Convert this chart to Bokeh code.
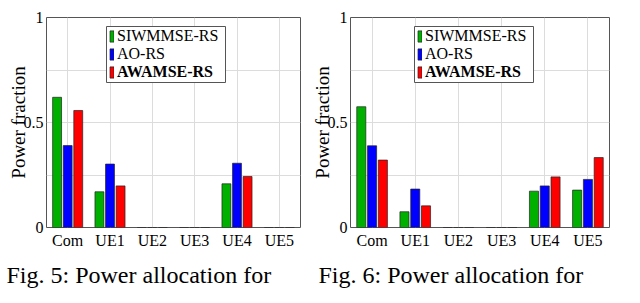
from bokeh.plotting import figure
from bokeh.models import (ColumnDataSource, FactorRange, Range1d, FixedTicker,
                          Legend, LegendItem, Title)
from bokeh.transform import dodge
from bokeh.layouts import row
from bokeh.embed import file_html
from bokeh.resources import INLINE

# ---------------- data ----------------
categories = ["Com", "UE1", "UE2", "UE3", "UE4", "UE5"]
series_names = ["SIWMMSE-RS", "AO-RS", "AWAMSE-RS"]

fig5_siwmmse = [0.62, 0.17, 0.0, 0.0, 0.208, 0.0]
fig5_ao = [0.39, 0.302, 0.0, 0.0, 0.306, 0.0]
fig5_awamse = [0.557, 0.198, 0.0, 0.0, 0.243, 0.0]

fig6_siwmmse = [0.575, 0.075, 0.0, 0.0, 0.173, 0.178]
fig6_ao = [0.389, 0.183, 0.0, 0.0, 0.198, 0.229]
fig6_awamse = [0.321, 0.103, 0.0, 0.0, 0.241, 0.333]

y_ticks = [0, 0.5, 1]
y_tick_labels = ["0", "0.5", "1"]
y_grid = [0.25, 0.5, 0.75]

captions = ["Fig. 5: Power allocation for", "Fig. 6: Power allocation for"]

# ---------------- style ----------------
FONT = "Liberation Serif"
COLORS = ["#00b000", "#0000ff", "#ff0000"]
EDGE = "#222222"
FRAME = "#555555"
GRID = "#dcdcdc"
FRAME_H = 210
BORDER_L = 46


def make_panel(s1, s2, s3, caption, width, border_right, cap_off,
               box_left_px, box_right_px, leg_x):
    frame_w = width - BORDER_L - border_right
    n = len(categories)
    src = ColumnDataSource(dict(cat=categories, s1=s1, s2=s2, s3=s3))
    p = figure(x_range=FactorRange(*categories), y_range=Range1d(0, 1),
               width=width, height=295,
               min_border_left=BORDER_L, min_border_right=border_right,
               min_border_top=17, min_border_bottom=68,
               output_backend="svg", toolbar_location=None)
    p.background_fill_color = "white"
    p.border_fill_color = "white"
    p.outline_line_color = FRAME
    p.outline_line_width = 1

    # legend frame (white box, grey border) placed in pixel terms of the frame
    p.quad(left=[box_left_px / frame_w * n], right=[box_right_px / frame_w * n],
           bottom=[(FRAME_H - 82) / FRAME_H + 17 / FRAME_H],
           top=[(FRAME_H - 26) / FRAME_H + 17 / FRAME_H],
           fill_color="white", line_color=FRAME, line_width=1)

    renderers = []
    for key, off, col in zip(["s1", "s2", "s3"], [-0.25, 0.0, 0.25], COLORS):
        r = p.vbar(x=dodge("cat", off, range=p.x_range), top=key, width=0.21,
                   source=src, fill_color=col, line_color=EDGE, line_width=0.7)
        renderers.append(r)

    p.xgrid.grid_line_color = GRID
    p.ygrid.grid_line_color = GRID
    p.ygrid.ticker = FixedTicker(ticks=y_grid)

    p.yaxis.ticker = FixedTicker(ticks=y_ticks)
    p.yaxis.major_label_overrides = {t: l for t, l in zip(y_ticks, y_tick_labels)}
    p.yaxis.axis_label = "Power fraction"
    p.yaxis.axis_label_text_font = FONT
    p.yaxis.axis_label_text_font_size = "19px"
    p.yaxis.axis_label_text_font_style = "normal"
    p.yaxis.axis_label_text_color = "black"
    p.yaxis.axis_label_standoff = -8
    for ax in (p.xaxis, p.yaxis):
        ax.axis_line_color = None
        ax.major_tick_out = 0
        ax.major_tick_in = 0
        ax.minor_tick_out = 0
        ax.minor_tick_in = 0
        ax.major_label_text_font = FONT
        ax.major_label_text_font_size = "16px"
        ax.major_label_text_color = "black"
    p.yaxis.major_label_standoff = 3
    p.xaxis.major_label_standoff = 4

    common = dict(glyph_width=5, glyph_height=14, label_standoff=3,
                  padding=0, spacing=0, margin=0,
                  label_text_font=FONT, label_text_font_size="16px",
                  label_text_color="black", label_height=17,
                  border_line_color=None,
                  background_fill_color="white", background_fill_alpha=1)
    leg_a = Legend(items=[LegendItem(label=series_names[0], renderers=[renderers[0]]),
                          LegendItem(label=series_names[1], renderers=[renderers[1]])],
                   location=(leg_x, 164), **common)
    leg_b = Legend(items=[LegendItem(label=series_names[2], renderers=[renderers[2]])],
                   location=(leg_x, 146), label_text_font_style="bold", **common)
    p.add_layout(leg_a, "center")
    p.add_layout(leg_b, "center")

    p.add_layout(Title(text=caption, align="left", offset=cap_off, standoff=16,
                       text_font=FONT, text_font_size="24px",
                       text_font_style="normal", text_color="black"), "below")
    return p


p1 = make_panel(fig5_siwmmse, fig5_ao, fig5_awamse, captions[0],
                304, 4, -40, 60, 179, 63)
p2 = make_panel(fig6_siwmmse, fig6_ao, fig6_awamse, captions[1],
                320, 15, -32, 64, 183, 67)

layout = row(p1, p2)

open("out.html", "w").write(file_html(layout, INLINE))
